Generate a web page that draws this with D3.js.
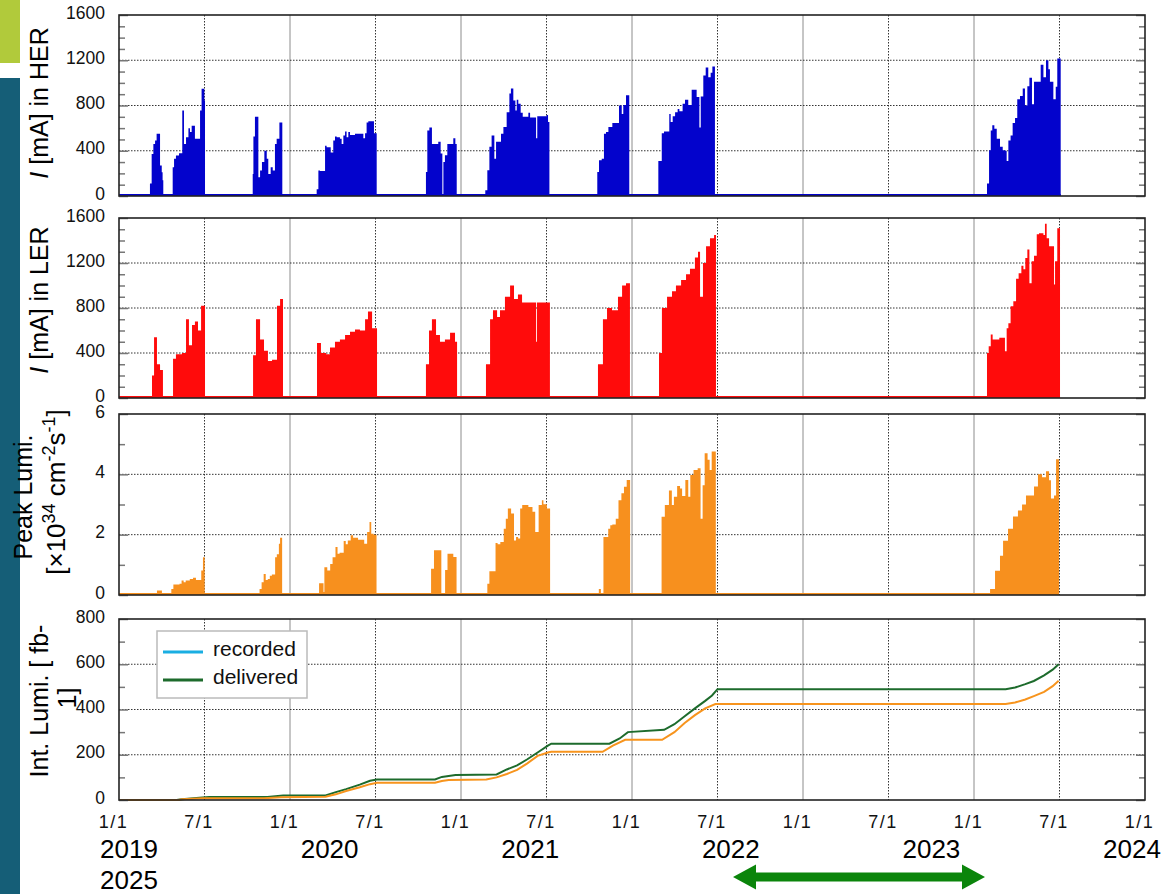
<!DOCTYPE html>
<html>
<head>
<meta charset="utf-8">
<script src="https://cdn.jsdelivr.net/npm/d3@7"></script>
<style>
  body { margin: 0; background: #fff; }
  svg { display: block; font-family: "Liberation Sans", Arial, sans-serif; }
</style>
</head>
<body>
<svg id="chart" width="1167" height="894"></svg>
<script>
// ---- Data (time in decimal years, step values hold until the next point) ----

// HER beam current [mA]
const herCurrent = [
  [2019.181,110],[2019.191,372],[2019.201,460],[2019.211,490],[2019.220,550],[2019.240,270],[2019.250,210],[2019.255,140],[2019.259,0],
  [2019.314,255],[2019.322,330],[2019.333,357],[2019.351,378],[2019.370,755],[2019.380,460],[2019.392,520],[2019.406,600],[2019.415,565],[2019.425,620],[2019.444,505],[2019.474,755],[2019.483,947],[2019.499,845],[2019.503,0],
  [2019.782,195],[2019.786,525],[2019.795,700],[2019.815,165],[2019.825,225],[2019.836,300],[2019.850,400],[2019.864,330],[2019.873,195],[2019.887,255],[2019.899,225],[2019.912,460],[2019.922,505],[2019.938,650],[2019.955,0],
  [2020.156,60],[2020.166,225],[2020.175,220],[2020.205,445],[2020.214,430],[2020.238,385],[2020.253,490],[2020.263,525],[2020.273,520],[2020.292,505],[2020.302,460],[2020.312,535],[2020.322,570],[2020.331,520],[2020.341,565],[2020.351,540],[2020.380,550],[2020.429,510],[2020.439,555],[2020.448,650],[2020.458,660],[2020.491,555],[2020.507,0],
  [2020.795,212],[2020.803,580],[2020.815,605],[2020.830,460],[2020.867,480],[2020.881,375],[2020.891,0],[2020.897,300],[2020.906,360],[2020.920,460],[2020.955,510],[2020.967,460],[2020.975,0],
  [2021.142,50],[2021.154,227],[2021.166,435],[2021.179,535],[2021.195,330],[2021.205,480],[2021.234,550],[2021.248,610],[2021.267,740],[2021.283,905],[2021.292,950],[2021.306,845],[2021.318,755],[2021.326,850],[2021.335,815],[2021.349,735],[2021.361,700],[2021.394,735],[2021.404,695],[2021.439,510],[2021.446,705],[2021.501,715],[2021.509,655],[2021.517,0],
  [2021.797,212],[2021.807,315],[2021.823,330],[2021.836,550],[2021.848,565],[2021.862,610],[2021.885,645],[2021.924,800],[2021.940,725],[2021.949,805],[2021.965,890],[2021.984,0],
  [2022.154,310],[2022.174,555],[2022.187,570],[2022.218,725],[2022.226,655],[2022.238,705],[2022.252,740],[2022.267,770],[2022.277,750],[2022.296,815],[2022.310,850],[2022.329,805],[2022.349,940],[2022.378,875],[2022.394,605],[2022.402,880],[2022.417,1065],[2022.431,1135],[2022.446,1050],[2022.460,1090],[2022.470,1145],[2022.485,0],
  [2024.076,110],[2024.088,405],[2024.098,580],[2024.107,625],[2024.119,595],[2024.133,505],[2024.152,435],[2024.168,405],[2024.181,400],[2024.191,310],[2024.201,490],[2024.214,535],[2024.226,645],[2024.240,690],[2024.253,855],[2024.269,885],[2024.285,950],[2024.298,800],[2024.312,970],[2024.324,1045],[2024.339,810],[2024.351,1010],[2024.390,1160],[2024.406,1050],[2024.421,1200],[2024.435,1120],[2024.444,1010],[2024.464,855],[2024.478,965],[2024.487,1215],[2024.507,0]
];

// LER beam current [mA]
const lerCurrent = [
  [2019.193,200],[2019.205,540],[2019.222,300],[2019.240,250],[2019.257,0],
  [2019.316,350],[2019.333,390],[2019.368,400],[2019.392,700],[2019.409,470],[2019.427,650],[2019.444,680],[2019.462,600],[2019.480,820],[2019.503,0],
  [2019.784,380],[2019.801,700],[2019.825,520],[2019.848,420],[2019.871,330],[2019.895,340],[2019.924,820],[2019.942,880],[2019.959,0],
  [2020.158,490],[2020.181,400],[2020.211,390],[2020.234,450],[2020.263,500],[2020.292,520],[2020.322,560],[2020.351,590],[2020.380,610],[2020.409,600],[2020.439,700],[2020.456,770],[2020.480,620],[2020.509,0],
  [2020.795,300],[2020.813,600],[2020.830,700],[2020.854,560],[2020.877,500],[2020.906,520],[2020.936,580],[2020.965,500],[2020.977,0],
  [2021.146,300],[2021.170,700],[2021.187,780],[2021.211,720],[2021.228,780],[2021.257,900],[2021.287,1000],[2021.310,880],[2021.333,920],[2021.357,850],[2021.439,500],[2021.444,850],[2021.520,0],
  [2021.801,300],[2021.830,700],[2021.854,800],[2021.883,780],[2021.918,900],[2021.942,1000],[2021.965,1020],[2021.988,0],
  [2022.158,400],[2022.175,800],[2022.205,900],[2022.234,950],[2022.257,1000],[2022.287,1050],[2022.316,1100],[2022.339,1150],[2022.368,1250],[2022.386,1300],[2022.398,900],[2022.415,1200],[2022.433,1350],[2022.456,1420],[2022.480,1450],[2022.491,0],
  [2024.076,400],[2024.086,460],[2024.098,565],[2024.109,520],[2024.148,535],[2024.181,415],[2024.191,620],[2024.201,665],[2024.214,815],[2024.230,860],[2024.246,1060],[2024.261,1110],[2024.277,1175],[2024.289,1145],[2024.300,1245],[2024.312,1320],[2024.324,1020],[2024.337,1215],[2024.351,1265],[2024.367,1455],[2024.380,1465],[2024.406,1450],[2024.415,1550],[2024.425,1420],[2024.439,1350],[2024.468,1010],[2024.474,1215],[2024.487,1510],[2024.503,0]
];

// Peak luminosity [10^34 cm^-2 s^-1]
const peakLumi = [
  [2019.222,0.15],[2019.251,0],
  [2019.306,0.2],[2019.318,0.35],[2019.354,0.37],[2019.366,0.48],[2019.378,0.42],[2019.390,0.48],[2019.414,0.53],[2019.433,0.57],[2019.450,0.5],[2019.481,0.81],[2019.491,1.25],[2019.501,0],
  [2019.822,0.2],[2019.834,0.42],[2019.846,0.7],[2019.858,0.5],[2019.870,0.53],[2019.882,0.64],[2019.894,0.68],[2019.913,1.25],[2019.923,1.35],[2019.935,1.7],[2019.942,1.9],[2019.954,0],
  [2020.170,0.39],[2020.196,0.1],[2020.201,0.92],[2020.218,0.81],[2020.235,1.03],[2020.249,1.25],[2020.266,1.59],[2020.278,1.37],[2020.290,1.4],[2020.314,1.79],[2020.326,1.68],[2020.338,1.81],[2020.355,1.98],[2020.369,1.9],[2020.398,1.83],[2020.434,1.7],[2020.451,2.09],[2020.465,2.42],[2020.475,2.03],[2020.489,2.0],[2020.506,0],
  [2020.825,0.87],[2020.842,1.48],[2020.885,0],[2020.907,0.83],[2020.921,1.37],[2020.955,1.26],[2020.974,0],
  [2021.154,0.37],[2021.166,0.79],[2021.202,1.72],[2021.214,1.68],[2021.230,1.76],[2021.250,2.2],[2021.262,2.53],[2021.274,2.87],[2021.293,2.7],[2021.310,1.81],[2021.322,1.92],[2021.334,1.87],[2021.346,2.87],[2021.358,2.98],[2021.394,2.92],[2021.418,2.76],[2021.434,2.09],[2021.454,2.98],[2021.473,3.14],[2021.482,3.01],[2021.502,2.87],[2021.521,0],
  [2021.806,0.2],[2021.818,0],[2021.833,1.92],[2021.861,2.2],[2021.873,2.31],[2021.885,2.34],[2021.905,2.53],[2021.921,3.14],[2021.938,3.37],[2021.953,3.59],[2021.969,3.81],[2021.989,0],
  [2022.173,2.59],[2022.192,2.98],[2022.216,3.46],[2022.233,2.98],[2022.245,3.26],[2022.264,3.61],[2022.281,3.53],[2022.293,3.28],[2022.312,3.81],[2022.329,3.26],[2022.341,3.98],[2022.360,4.14],[2022.384,4.2],[2022.401,2.53],[2022.413,3.64],[2022.425,4.7],[2022.442,4.48],[2022.454,4.14],[2022.466,4.76],[2022.490,0],
  [2024.094,0.2],[2024.123,0.8],[2024.152,1.3],[2024.170,1.8],[2024.199,2.2],[2024.228,2.6],[2024.257,2.8],[2024.281,3.0],[2024.304,3.3],[2024.327,3.3],[2024.351,3.6],[2024.374,4.0],[2024.398,3.9],[2024.421,4.1],[2024.439,3.8],[2024.450,3.2],[2024.468,3.3],[2024.480,4.5],[2024.497,0]
];

// Integrated luminosity [fb^-1]
const deliveredLumi = [
  [2019.000,0],[2019.336,0],[2019.368,3],[2019.488,11],[2019.528,13],[2019.868,13],[2019.960,20],[2020.208,20],[2020.268,35],[2020.328,48],[2020.408,68],[2020.468,85],[2020.508,91],
  [2020.848,91],[2020.888,102],[2020.968,110],[2021.208,113],[2021.268,135],[2021.328,153],[2021.388,180],[2021.448,210],[2021.508,240],[2021.528,249],
  [2021.868,249],[2021.928,272],[2021.976,300],[2022.188,310],[2022.248,335],[2022.308,370],[2022.368,405],[2022.428,438],[2022.468,462],[2022.500,490],
  [2024.185,490],[2024.240,497],[2024.300,512],[2024.350,526],[2024.410,551],[2024.460,576],[2024.495,600]
];
const recordedLumi = [
  [2019.000,0],[2019.348,0],[2019.368,3],[2019.488,8],[2019.848,8],[2019.948,12],[2020.208,14],[2020.268,25],[2020.328,40],[2020.408,56],[2020.468,70],[2020.508,76],
  [2020.848,76],[2020.888,84],[2020.928,88],[2021.148,91],[2021.208,100],[2021.268,115],[2021.328,133],[2021.388,162],[2021.448,195],[2021.508,210],[2021.528,213],
  [2021.828,213],[2021.888,240],[2021.960,266],[2022.176,266],[2022.248,300],[2022.308,340],[2022.368,375],[2022.428,405],[2022.488,424],
  [2024.185,424],[2024.240,431],[2024.300,444],[2024.350,459],[2024.410,478],[2024.460,503],[2024.495,527]
];

// Axis texts
const yearLabels = ["2019", "2020", "2021", "2022", "2023", "2024"];
const extraYearLabel = "2025";
const legendEntries = [
  { name: "recorded", color: "#1aaee2" },
  { name: "delivered", color: "#1d6b2c" }
];

// ---- Drawing ----
const svg = d3.select("#chart");
const x = d3.scaleLinear().domain([2019, 2025]).range([119, 1145]);
const halfYears = d3.range(2019, 2025.001, 0.5);

// side bars of the slide
svg.append("rect").attr("x", 0).attr("y", 0).attr("width", 20).attr("height", 63).attr("fill", "#b1ca3b");
svg.append("rect").attr("x", 0).attr("y", 78).attr("width", 20).attr("height", 816).attr("fill", "#155e77");

const panels = [
  { top: 15, bottom: 196, max: 1600, major: 400, minor: 100, data: herCurrent, color: "#0303cc" },
  { top: 218, bottom: 398, max: 1600, major: 400, minor: 100, data: lerCurrent, color: "#ff0b0b" },
  { top: 414, bottom: 595, max: 6, major: 2, minor: 1, data: peakLumi, color: "#f7901e" },
  { top: 619, bottom: 800, max: 800, major: 200, minor: 100, lines: true }
];

panels.forEach(p => {
  const y = d3.scaleLinear().domain([0, p.max]).range([p.bottom, p.top]);
  const g = svg.append("g");
  const majors = d3.range(0, p.max + 1e-9, p.major);
  const minors = d3.range(0, p.max + 1e-9, p.minor).filter(v => Math.abs(v / p.major - Math.round(v / p.major)) > 1e-6);

  // vertical grid: light solid at 1/1, dotted at 7/1
  g.selectAll(".vgrid").data(halfYears.filter(t => t > 2019 && t < 2025)).join("line")
    .attr("x1", d => x(d)).attr("x2", d => x(d))
    .attr("y1", p.top).attr("y2", p.bottom)
    .attr("stroke", d => Number.isInteger(d) ? "#8c8c8c" : "#333")
    .attr("stroke-width", 1)
    .attr("stroke-dasharray", d => Number.isInteger(d) ? null : "1.5,1.5");

  // horizontal dotted grid at major ticks
  g.selectAll(".hgrid").data(majors.filter(v => v > 0 && v < p.max)).join("line")
    .attr("x1", x(2019)).attr("x2", x(2025))
    .attr("y1", d => y(d)).attr("y2", d => y(d))
    .attr("stroke", "#333").attr("stroke-width", 1).attr("stroke-dasharray", "1.5,1.5");

  if (!p.lines) {
    const pts = [[2019, 0]].concat(p.data);
    const area = d3.area().curve(d3.curveStepAfter)
      .x(d => x(d[0])).y0(y(0)).y1(d => y(d[1]));
    g.append("path").datum(pts).attr("d", area).attr("fill", p.color);
    const end = p.data[p.data.length - 1][0];
    g.append("path").datum([[2019, 0], [end, 0]])
      .attr("d", d3.line().x(d => x(d[0])).y(d => y(d[1]) - 1))
      .attr("stroke", p.color).attr("stroke-width", 2).attr("fill", "none");
  } else {
    const line = d3.line().x(d => x(d[0])).y(d => y(d[1]));
    g.append("path").datum(deliveredLumi).attr("d", line)
      .attr("fill", "none").attr("stroke", "#1d6b2c").attr("stroke-width", 2);
    g.append("path").datum(recordedLumi).attr("d", line)
      .attr("fill", "none").attr("stroke", "#f7941d").attr("stroke-width", 2);
  }

  // inner ticks, left and right
  const tickStyle = sel => {
    sel.select(".domain").remove();
    sel.selectAll(".tick line").attr("stroke", "#777").attr("stroke-width", 1.5);
  };
  g.append("g").attr("transform", `translate(${x(2019)},0)`)
    .call(d3.axisRight(y).tickValues(minors).tickSize(6).tickFormat("")).call(tickStyle);
  g.append("g").attr("transform", `translate(${x(2019)},0)`)
    .call(d3.axisRight(y).tickValues(majors).tickSize(9).tickFormat("")).call(tickStyle);
  g.append("g").attr("transform", `translate(${x(2025)},0)`)
    .call(d3.axisLeft(y).tickValues(minors).tickSize(6).tickFormat("")).call(tickStyle);
  g.append("g").attr("transform", `translate(${x(2025)},0)`)
    .call(d3.axisLeft(y).tickValues(majors).tickSize(9).tickFormat("")).call(tickStyle);

  // tick labels
  const lab = g.append("g").attr("transform", `translate(${x(2019)},0)`)
    .call(d3.axisLeft(y).tickValues(majors).tickSize(0).tickPadding(14).tickFormat(d3.format("d")));
  lab.select(".domain").remove();
  lab.selectAll("text").attr("font-size", 17.5).attr("fill", "#111")
    .attr("font-family", "'Liberation Sans', Arial, sans-serif")
    .attr("dy", "0").attr("y", 3);

  // frame
  g.append("rect").attr("x", x(2019)).attr("y", p.top)
    .attr("width", x(2025) - x(2019)).attr("height", p.bottom - p.top)
    .attr("fill", "none").attr("stroke", "#222").attr("stroke-width", 1.6);
});

// x axis under the last panel
const xAxis = svg.append("g").attr("transform", "translate(0,800)")
  .call(d3.axisBottom(x).tickValues(halfYears).tickSize(0)
    .tickFormat(t => Number.isInteger(t) ? "1/1" : "7/1"));
xAxis.select(".domain").remove();
xAxis.selectAll("text").attr("font-size", 18).attr("fill", "#111")
  .attr("font-family", "'Liberation Sans', Arial, sans-serif")
  .attr("letter-spacing", "1.5px")
  .attr("dy", 0).attr("y", 28).attr("dx", -6);

// year labels
const yearPos = d3.scaleLinear().domain([0, yearLabels.length - 1]).range([129, 1132]);
svg.append("g").selectAll("text").data(yearLabels).join("text")
  .attr("x", (d, i) => yearPos(i)).attr("y", 858)
  .attr("text-anchor", "middle").attr("font-size", 26).attr("fill", "#000")
  .text(d => d);
svg.append("text").attr("x", yearPos(0)).attr("y", 889)
  .attr("text-anchor", "middle").attr("font-size", 26).attr("fill", "#000")
  .text(extraYearLabel);

// long-shutdown arrow
const arrowY = 877;
const ax0 = 733, ax1 = 985, head = 23, hw = 12.5, sw = 4.5;
svg.append("path")
  .attr("d", `M${ax0},${arrowY} L${ax0 + head},${arrowY - hw} L${ax0 + head},${arrowY - sw} L${ax1 - head},${arrowY - sw} L${ax1 - head},${arrowY - hw} L${ax1},${arrowY} L${ax1 - head},${arrowY + hw} L${ax1 - head},${arrowY + sw} L${ax0 + head},${arrowY + sw} L${ax0 + head},${arrowY + hw} Z`)
  .attr("fill", "#0b850b");

// y-axis titles
function rotTitle(cx, cy, size) {
  return svg.append("text").attr("transform", `translate(${cx},${cy}) rotate(-90)`)
    .attr("text-anchor", "middle").attr("font-size", size || 25).attr("fill", "#000");
}
[["HER", 103], ["LER", 300]].forEach(([ring, cy]) => {
  const t = rotTitle(48, cy);
  t.append("tspan").attr("font-style", "italic").text("I");
  t.append("tspan").text(" [mA] in " + ring);
});
rotTitle(32, 497).text("Peak Lumi.");
{
  const t = rotTitle(65, 492, 26);
  t.append("tspan").text("[×10");
  t.append("tspan").attr("font-size", 18).attr("dy", -10).text("34");
  t.append("tspan").attr("dy", 10).text(" cm");
  t.append("tspan").attr("font-size", 18).attr("dy", -10).text("-2");
  t.append("tspan").attr("dy", 10).text("s");
  t.append("tspan").attr("font-size", 18).attr("dy", -10).text("-1");
  t.append("tspan").attr("dy", 10).text("]");
}
rotTitle(48, 701).text("Int. Lumi. [ fb-");
rotTitle(76, 698).text("1]");

// legend
const lg = svg.append("g");
lg.append("rect").attr("x", 157).attr("y", 631).attr("width", 150).attr("height", 67)
  .attr("fill", "#fff").attr("stroke", "#bbb").attr("stroke-width", 1.5);
lg.selectAll(".entry").data(legendEntries).join("g")
  .attr("transform", (d, i) => `translate(0,${652 + i * 28})`)
  .each(function (d) {
    const e = d3.select(this);
    e.append("line").attr("x1", 163).attr("x2", 203).attr("y1", 0).attr("y2", 0)
      .attr("stroke", d.color).attr("stroke-width", 3);
    e.append("text").attr("x", 213).attr("y", 4).attr("font-size", 21).attr("fill", "#111").text(d.name);
  });
</script>
</body>
</html>
